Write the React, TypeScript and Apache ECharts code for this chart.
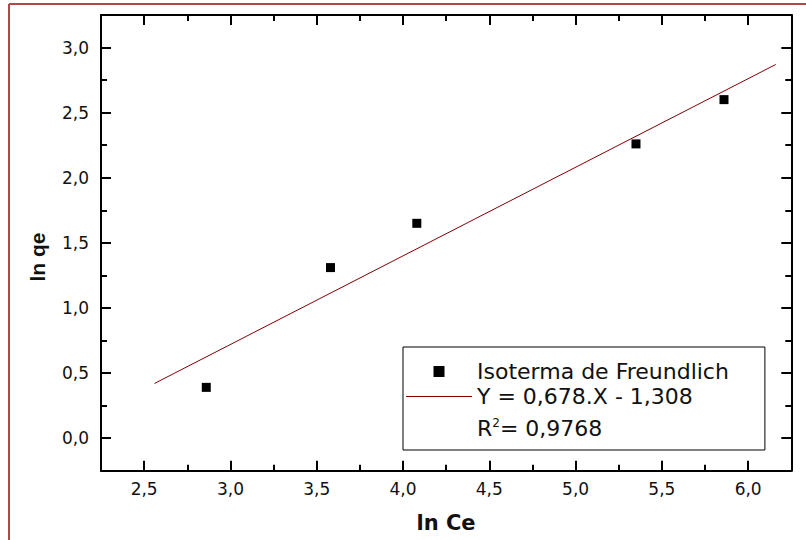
import React, { useEffect, useRef } from "react";
import * as echarts from "echarts";

const xData = [2.86, 3.58, 4.08, 5.35, 5.86];
const yData = [0.39, 1.31, 1.65, 2.26, 2.6];
const fitLine = [
  [2.56, 0.42],
  [6.16, 2.87],
];
const xMajor = [2.5, 3.0, 3.5, 4.0, 4.5, 5.0, 5.5, 6.0];
const xMinor = [2.75, 3.25, 3.75, 4.25, 4.75, 5.25, 5.75];
const yMajor = [0.0, 0.5, 1.0, 1.5, 2.0, 2.5, 3.0];
const yMinor = [0.25, 0.75, 1.25, 1.75, 2.25, 2.75];
const xRange = [2.25, 6.25];
const yRange = [-0.25, 3.25];
const scatterName = "Isoterma de Freundlich";
const lineName = "Y = 0,678.X - 1,308";
const r2Value = "= 0,9768";
const xName = "ln Ce";
const yName = "ln qe";

const FONT = "DejaVu Sans";
const fmt = (v: number) => v.toFixed(1).replace(".", ",");

function axis(
  kind: "x" | "y",
  position: string,
  ticks: number[],
  len: number,
  showLine: boolean,
  showLabel: boolean
) {
  const range = kind === "x" ? xRange : yRange;
  return {
    type: "value",
    gridIndex: 0,
    position,
    min: range[0],
    max: range[1],
    splitLine: { show: false },
    axisLine: {
      show: showLine,
      onZero: false,
      lineStyle: { color: "#000", width: 2 },
    },
    axisTick: {
      show: true,
      inside: true,
      length: len,
      customValues: ticks,
      lineStyle: { color: "#000", width: 2 },
    },
    axisLabel: {
      show: showLabel,
      customValues: ticks,
      formatter: fmt,
      fontFamily: FONT,
      fontSize: 17,
      color: "#111",
      margin: kind === "x" ? 10 : 12,
    },
  };
}

export default function App() {
  const ref = useRef<HTMLDivElement>(null);
  useEffect(() => {
    if (!ref.current) return;
    const chart = echarts.init(ref.current, null, { renderer: "svg" });
    chart.setOption({
      animation: false,
      backgroundColor: "#fff",
      grid: { left: 101, right: 14.7, top: 15, bottom: 69.3 },
      xAxis: [
        axis("x", "bottom", xMajor, 10, true, true),
        axis("x", "bottom", xMinor, 6, false, false),
        axis("x", "top", xMajor, 10, true, false),
        axis("x", "top", xMinor, 6, false, false),
      ],
      yAxis: [
        axis("y", "left", yMajor, 10, true, true),
        axis("y", "left", yMinor, 6, false, false),
        axis("y", "right", yMajor, 10, true, false),
        axis("y", "right", yMinor, 6, false, false),
      ],
      legend: {
        orient: "vertical",
        left: 403,
        top: 347,
        padding: [12, 36, 41, 3],
        itemGap: 0,
        itemWidth: 66,
        itemHeight: 11,
        borderColor: "#000",
        borderWidth: 1,
        borderRadius: 0,
        selectedMode: false,
        textStyle: { fontFamily: FONT, fontSize: 22, color: "#111", lineHeight: 25 },
        data: [
          { name: scatterName, icon: "path://M0,0H10V10H0Z", itemStyle: { color: "#000", opacity: 1 } },
          { name: lineName, icon: "path://M0,5H66V6H0Z", itemStyle: { color: "#800000" } },
        ],
      },
      series: [
        {
          name: scatterName,
          type: "scatter",
          xAxisIndex: 0,
          yAxisIndex: 0,
          symbol: "rect",
          symbolSize: 9,
          itemStyle: { color: "#000", opacity: 1 },
          data: xData.map((x, i) => [x, yData[i]]),
        },
        {
          name: lineName,
          type: "line",
          xAxisIndex: 0,
          yAxisIndex: 0,
          symbol: "none",
          lineStyle: { color: "#800000", width: 1 },
          itemStyle: { color: "#800000" },
          data: fitLine,
        },
      ],
      graphic: [
        {
          type: "line",
          shape: { x1: 9, y1: 4, x2: 806, y2: 4 },
          style: { stroke: "#b04848", lineWidth: 2 },
        },
        {
          type: "line",
          shape: { x1: 9, y1: 4, x2: 9, y2: 540 },
          style: { stroke: "#b04848", lineWidth: 2 },
        },
        {
          type: "text",
          x: 446,
          y: 523,
          style: {
            text: xName,
            fontFamily: FONT,
            fontWeight: "bold",
            fontSize: 21,
            fill: "#111",
            align: "center",
            verticalAlign: "middle",
            textAlign: "center",
            textVerticalAlign: "middle",
          },
        },
        {
          type: "text",
          x: 37,
          y: 257,
          rotation: Math.PI / 2,
          style: {
            text: yName,
            fontFamily: "Liberation Sans",
            fontWeight: "bold",
            fontSize: 21,
            fill: "#111",
            align: "center",
            verticalAlign: "middle",
            textAlign: "center",
            textVerticalAlign: "middle",
          },
        },
        {
          type: "text",
          x: 477,
          y: 428,
          style: {
            text: "{r|R}{s|2}{r|" + r2Value + "}",
            align: "left",
            verticalAlign: "middle",
            textAlign: "left",
            textVerticalAlign: "middle",
            rich: {
              r: { fontFamily: FONT, fontSize: 22, fill: "#111", color: "#111" },
              s: {
                fontFamily: FONT,
                fontSize: 12,
                fill: "#111",
                color: "#111",
                verticalAlign: "top",
              },
            },
          },
        },
      ],
    });
    return () => chart.dispose();
  }, []);
  return (
    <div
      ref={ref}
      style={{ position: "absolute", left: 0, top: 0, width: 806, height: 540 }}
    />
  );
}
